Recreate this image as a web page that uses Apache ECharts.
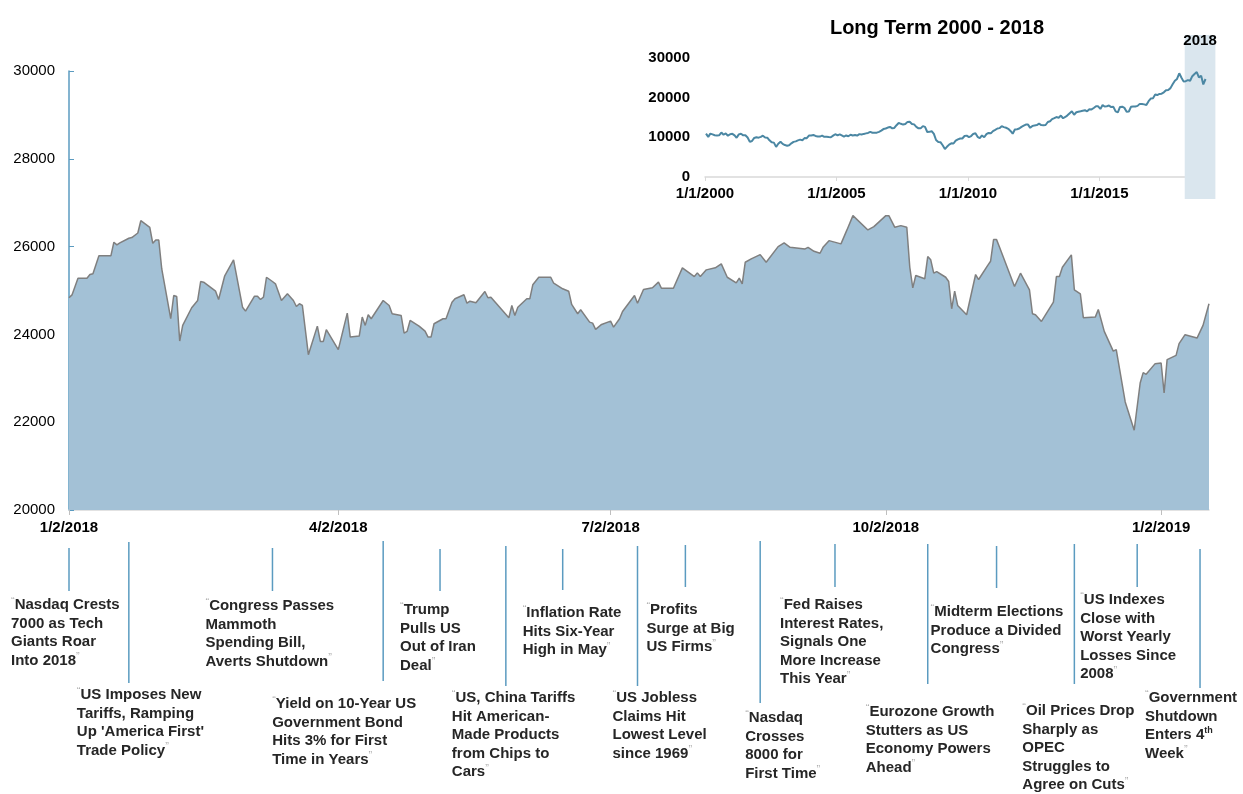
<!DOCTYPE html>
<html><head><meta charset="utf-8">
<script src="https://cdn.jsdelivr.net/npm/echarts@6/dist/echarts.min.js"></script>
<style>html,body{margin:0;padding:0;background:#fff}#c{width:1243px;height:794px}</style>
</head><body><div id="c"></div>
<script>
// ---------- DATA ----------
const mainDates = [
 '2018-01-02','2018-01-03','2018-01-05','2018-01-08','2018-01-09','2018-01-10','2018-01-12','2018-01-16','2018-01-17','2018-01-18','2018-01-19','2018-01-22','2018-01-23','2018-01-25','2018-01-26','2018-01-29','2018-01-30','2018-01-31',
 '2018-02-01','2018-02-02','2018-02-05','2018-02-06','2018-02-07','2018-02-08','2018-02-09','2018-02-12','2018-02-14','2018-02-15','2018-02-16','2018-02-20','2018-02-21','2018-02-23','2018-02-26',
 '2018-03-01','2018-03-02','2018-03-05','2018-03-06','2018-03-07','2018-03-08','2018-03-09','2018-03-11','2018-03-12','2018-03-14','2018-03-16','2018-03-18','2018-03-19','2018-03-20','2018-03-21','2018-03-23','2018-03-26','2018-03-27','2018-03-28','2018-03-29',
 '2018-04-02','2018-04-05','2018-04-06','2018-04-09','2018-04-10','2018-04-11','2018-04-12','2018-04-13','2018-04-17','2018-04-19','2018-04-20','2018-04-23','2018-04-24','2018-04-25','2018-04-26','2018-04-29',
 '2018-05-01','2018-05-02','2018-05-03','2018-05-04','2018-05-07','2018-05-08','2018-05-10','2018-05-11','2018-05-14','2018-05-15','2018-05-16','2018-05-18','2018-05-21','2018-05-22','2018-05-23','2018-05-29','2018-05-30','2018-05-31',
 '2018-06-01','2018-06-04','2018-06-05','2018-06-06','2018-06-08','2018-06-12','2018-06-13','2018-06-16','2018-06-18','2018-06-19','2018-06-21','2018-06-22','2018-06-25','2018-06-26','2018-06-27','2018-06-29',
 '2018-07-02','2018-07-03','2018-07-05','2018-07-06','2018-07-10','2018-07-11','2018-07-13','2018-07-16','2018-07-18','2018-07-19','2018-07-23','2018-07-26','2018-07-30','2018-07-31',
 '2018-08-01','2018-08-03','2018-08-06','2018-08-08','2018-08-10','2018-08-13','2018-08-14','2018-08-15','2018-08-16','2018-08-18','2018-08-21','2018-08-23','2018-08-27','2018-08-29','2018-08-31',
 '2018-09-05','2018-09-06','2018-09-08','2018-09-10','2018-09-11','2018-09-13','2018-09-17','2018-09-19','2018-09-21','2018-09-26','2018-09-28',
 '2018-10-02','2018-10-03','2018-10-05','2018-10-07','2018-10-09','2018-10-10','2018-10-11','2018-10-12','2018-10-15','2018-10-16','2018-10-17','2018-10-18','2018-10-19','2018-10-22','2018-10-23','2018-10-24','2018-10-25','2018-10-26','2018-10-29',
 '2018-11-01','2018-11-02','2018-11-05','2018-11-06','2018-11-07','2018-11-08','2018-11-09','2018-11-14','2018-11-16','2018-11-19','2018-11-20','2018-11-21','2018-11-23','2018-11-27','2018-11-28','2018-11-29','2018-11-30',
 '2018-12-03','2018-12-04','2018-12-06','2018-12-07','2018-12-11','2018-12-12','2018-12-14','2018-12-17','2018-12-18','2018-12-21','2018-12-24','2018-12-26','2018-12-27','2018-12-28','2018-12-31',
 '2019-01-02','2019-01-03','2019-01-04','2019-01-07','2019-01-08','2019-01-10','2019-01-14','2019-01-16','2019-01-18'
];
const mainValues = [
 24834,24900,25280,25280,25364,25380,25790,25790,26100,26040,26085,26190,26205,26310,26590,26440,26075,26150,
 26150,25490,24357,24886,24864,23848,24205,24607,24773,25205,25190,24984,24795,25325,25698,
 24620,24530,24870,24870,24795,24848,25302,25205,25152,24773,24925,24773,24636,24698,24659,23538,24189,23841,23841,24107,
 23652,24485,23939,23962,24394,24205,24448,24357,24773,24659,24470,24432,24030,24068,24318,24189,
 24075,23939,23939,24243,24357,24357,24734,24811,24902,24711,24757,24720,24977,24834,24848,24380,24659,24432,
 24620,24811,24811,25130,25302,25302,25166,25039,24984,24682,24470,24561,24280,24257,24114,24227,
 24302,24166,24357,24523,24886,24711,25023,25061,25190,25052,25052,25516,25318,25402,
 25318,25470,25516,25607,25302,25175,25280,25152,25643,25720,25818,25643,26000,26084,25984,
 25948,25984,25893,25848,25984,26136,26062,26380,26705,26380,26455,
 26705,26705,26440,26478,26440,25530,25061,25341,25266,25773,25698,25394,25432,25302,25205,24584,24984,24659,24448,
 25364,25250,25568,25666,26159,26159,25984,25091,25394,25016,24470,24448,24295,24734,25318,25318,25530,
 25811,25016,24925,24380,24394,24568,24068,23620,23652,22461,21818,22893,23129,23091,23334,
 23348,22666,23425,23523,23789,23993,23916,24205,24698
];
const mainTicks = ['2018-01-02','2018-04-02','2018-07-02','2018-10-02','2019-01-02'];

// Long term inset: monthly values Jan 2000 .. Jan 2019
const longStart = [2000, 1];
const longValues = [
 10940,10128,10922,10734,10522,10448,10522,11215,10651,10971,10415,10787,
 10887,10495,9879,10735,10912,10502,10523,9950,8848,9075,9852,10021,
 9920,10106,10404,9946,9925,9243,8737,8664,7592,8397,8896,8342,
 8054,7891,7992,8480,8850,8985,9233,9416,9275,9801,9782,10453,
 10488,10584,10358,10226,10188,10435,10140,10174,10080,10027,10428,10783,
 10490,10766,10504,10193,10467,10275,10641,10482,10569,10440,10806,10718,
 10865,10993,11109,11367,11168,11150,11186,11381,11679,12081,12222,12463,
 12622,12269,12354,13063,13628,13409,13212,13358,13896,13930,13372,13265,
 12650,12266,12263,12820,12638,11350,11378,11544,10851,9325,8829,8776,
 8001,7063,7609,8168,8500,8447,9172,9496,9712,9713,10345,10428,
 10067,10325,10857,11009,10137,9774,10466,10015,10788,11118,11006,11578,
 11892,12226,12320,12811,12570,12414,12143,11614,10913,11955,12046,12218,
 12633,12952,13212,13214,12393,12880,13009,13091,13437,13096,13026,13104,
 13861,14054,14579,14840,15116,14910,15500,14810,15130,15546,16086,16577,
 15699,16322,16458,16581,16717,16827,16563,17098,17043,17391,17828,17823,
 17165,18133,17776,17841,18011,17620,17690,16528,16285,17664,17720,17425,
 16466,16517,17685,17774,17787,17930,18432,18401,18308,18142,19124,19763,
 19864,20812,20663,20941,21009,21350,21891,21948,22405,23377,24272,24719,
 26149,25029,24103,24163,24416,24271,25415,25965,26458,25116,25538,23327,
 24706
];
const longTicks = ['2000-01-01','2005-01-01','2010-01-01','2015-01-01'];
const longRange = ['2000-01-01','2019-04-01'];
const highlightRange = ['2018-04-01','2019-06-01'];
const highlightLabel = '2018';
const insetTitle = 'Long Term 2000 - 2018';

const eventDates = ['2018-01-02','2018-01-22','2018-03-11','2018-04-17','2018-05-06','2018-05-28','2018-06-16','2018-07-11',
 '2018-07-27','2018-08-21','2018-09-15','2018-10-16','2018-11-08','2018-12-04','2018-12-25','2019-01-15'];
const eventTexts = [
 'Nasdaq Crests\n7000 as Tech\nGiants Roar\nInto 2018',
 'US Imposes New\nTariffs, Ramping\nUp \'America First\'\nTrade Policy',
 'Congress Passes\nMammoth\nSpending Bill,\nAverts Shutdown',
 'Yield on 10-Year US\nGovernment Bond\nHits 3% for First\nTime in Years',
 'Trump\nPulls US\nOut of Iran\nDeal',
 'US, China Tariffs\nHit American-\nMade Products\nfrom Chips to\nCars',
 'Inflation Rate\nHits Six-Year\nHigh in May',
 'US Jobless\nClaims Hit\nLowest Level\nsince 1969',
 'Profits\nSurge at Big\nUS Firms',
 'Nasdaq\nCrosses\n8000 for\nFirst Time',
 'Fed Raises\nInterest Rates,\nSignals One\nMore Increase\nThis Year',
 'Eurozone Growth\nStutters as US\nEconomy Powers\nAhead',
 'Midterm Elections\nProduce a Divided\nCongress',
 'Oil Prices Drop\nSharply as\nOPEC\nStruggles to\nAgree on Cuts',
 'US Indexes\nClose with\nWorst Yearly\nLosses Since\n2008',
 'Government\nShutdown\nEnters 4{sup|th}\nWeek'
];
// layout only: [text dx from line, text top, line top, line bottom]
const eventLayout = [
 [-58,596,548,591],[-52,686,542,683],[-67,597,548,591],[-111,695,541,681],
 [-40,601,549,591],[-54,689,546,686],[-40,604,549,590],[-25,689,546,686],
 [-39,601,545,587],[-15,709,541,703],[-55,596,544,587],[-62,703,544,684],
 [-66,603,546,588],[-52,702,544,684],[-57,591,544,587],[-55,689,549,688]
];

// ---------- CHART ----------
const FONT = '"Liberation Sans", Arial, Helvetica, sans-serif';
function ts(s){const p=s.split('-').map(Number);return new Date(p[0],p[1]-1,p[2]).getTime();}
function fmt(v){const d=new Date(v);return (d.getMonth()+1)+'/'+d.getDate()+'/'+d.getFullYear();}
function plain(v){return String(v);}

const mainData = mainDates.map((d,i)=>[ts(d), mainValues[i]]);
const longData = longValues.map((v,i)=>[new Date(longStart[0], longStart[1]-1+i, 15).getTime(), v]);

const chart = echarts.init(document.getElementById('c'), null, {renderer:'canvas'});
chart.setOption({
  animation:false,
  backgroundColor:'#ffffff',
  title:{text:insetTitle, left:932, top:13, textAlign:'center',
    textStyle:{fontFamily:FONT, fontSize:20, fontWeight:'bold', color:'#000'}},
  grid:[
    {left:69, top:71, width:1140, height:439},
    {left:705, top:58, width:506, height:119}
  ],
  xAxis:[
    {type:'value', gridIndex:0, min:ts(mainDates[0]), max:ts(mainDates[mainDates.length-1]),
     axisLine:{show:true, lineStyle:{color:'#d9d9d9', width:1.5}},
     axisTick:{show:true, customValues:mainTicks.map(ts), length:5, lineStyle:{color:'#bfbfbf'}},
     axisLabel:{customValues:mainTicks.map(ts), formatter:fmt, fontFamily:FONT, fontSize:15, fontWeight:'bold', color:'#000', margin:10},
     splitLine:{show:false}},
    {type:'value', gridIndex:1, min:ts(longRange[0]), max:ts(longRange[1]),
     axisLine:{show:true, lineStyle:{color:'#d9d9d9', width:1.5}},
     axisTick:{show:true, customValues:longTicks.map(ts), length:4, lineStyle:{color:'#d9d9d9'}},
     axisLabel:{customValues:longTicks.map(ts), formatter:fmt, fontFamily:FONT, fontSize:15, fontWeight:'bold', color:'#000', margin:9},
     splitLine:{show:false}}
  ],
  yAxis:[
    {type:'value', gridIndex:0, min:20000, max:30000, interval:2000,
     axisLine:{show:true, lineStyle:{color:'#5b9bc0', width:1.5}},
     axisTick:{show:true, inside:true, length:5, lineStyle:{color:'#5b9bc0'}},
     axisLabel:{formatter:plain, fontFamily:FONT, fontSize:15, color:'#000', margin:14},
     splitLine:{show:false}},
    {type:'value', gridIndex:1, min:0, max:30000, interval:10000,
     axisLine:{show:false}, axisTick:{show:false},
     axisLabel:{formatter:plain, fontFamily:FONT, fontSize:15, fontWeight:'bold', color:'#000', margin:15},
     splitLine:{show:false}}
  ],
  series:[
    {type:'line', xAxisIndex:0, yAxisIndex:0, data:mainData, showSymbol:false, symbol:'none',
     lineStyle:{color:'#7f7f7f', width:1.5}, areaStyle:{color:'#a3c1d6', opacity:1, origin:'start'}, z:2},
    {type:'line', xAxisIndex:1, yAxisIndex:1, data:longData, showSymbol:false, symbol:'none',
     lineStyle:{color:'#4b87a3', width:2}, z:5}
  ]
});

// decorations computed through the axes
const g = [];
const hx0 = chart.convertToPixel({xAxisIndex:1}, ts(highlightRange[0]));
const hx1 = chart.convertToPixel({xAxisIndex:1}, ts(highlightRange[1]));
g.push({type:'rect', z:1, silent:true, shape:{x:hx0, y:35, width:hx1-hx0, height:164}, style:{fill:'#dae6ee'}});
g.push({type:'text', z:10, silent:true, x:(hx0+hx1)/2, y:33,
  style:{text:highlightLabel, fontFamily:FONT, fontSize:15, fontWeight:'bold', fill:'#000', align:'center', verticalAlign:'top'}});

eventDates.forEach((d,i)=>{
  const x = chart.convertToPixel({xAxisIndex:0}, ts(d));
  const L = eventLayout[i];
  g.push({type:'line', z:10, silent:true, shape:{x1:x, y1:L[2], x2:x, y2:L[3]}, style:{stroke:'#5b9bc0', lineWidth:1.5}});
  g.push({type:'text', z:10, silent:true, x:x+L[0], y:L[1],
    style:{text:'{q|\u201C}'+eventTexts[i]+'{q|\u201D}', fontFamily:FONT, fontSize:15, fontWeight:'bold',
      fill:'#262626', lineHeight:18.5, align:'left', verticalAlign:'top',
      rich:{
        q:{fontFamily:FONT, fontSize:11, fill:'#b0b0b0', color:'#b0b0b0', verticalAlign:'top', lineHeight:18.5},
        sup:{fontFamily:FONT, fontSize:9, fontWeight:'bold', fill:'#262626', color:'#262626', verticalAlign:'top', lineHeight:18.5}
      }}});
});
chart.setOption({graphic:{elements:g}});
</script>
</body></html>
